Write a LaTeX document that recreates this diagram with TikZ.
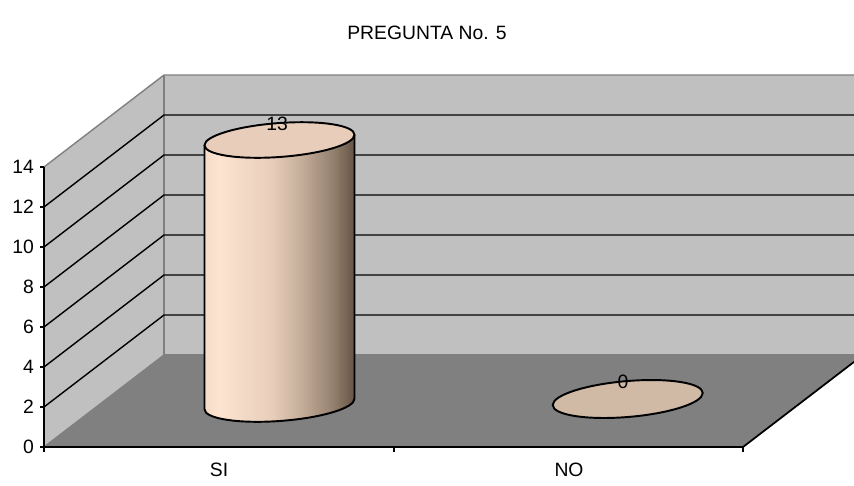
\documentclass[tikz,border=0pt]{standalone}
\usepackage{fontspec}
\setmainfont{Liberation Sans}
\usepackage{tikz}
\definecolor{wallgray}{RGB}{192,192,192}
\definecolor{floorgray}{RGB}{128,128,128}
\definecolor{cylA}{RGB}{245,220,200}
\definecolor{cylB}{RGB}{252,228,208}
\definecolor{cylC}{RGB}{232,206,186}
\definecolor{cylD}{RGB}{195,172,152}
\definecolor{cylE}{RGB}{150,130,112}
\definecolor{cylF}{RGB}{100,84,70}
\definecolor{cyltop}{RGB}{232,206,186}
\definecolor{disk}{RGB}{208,186,166}
\pgfdeclarehorizontalshading{cylshade}{100bp}{color(0bp)=(cylA); color(25bp)=(cylA); color(30bp)=(cylB); color(47.5bp)=(cylC); color(57.5bp)=(cylD); color(67.5bp)=(cylE); color(75bp)=(cylF); color(100bp)=(cylF)}

\begin{document}
\begin{tikzpicture}[x=0.02cm,y=0.02cm,font=\fontsize{11}{13}\selectfont,
		grid/.style={line width=0.8pt},
		edge/.style={draw=floorgray,line width=0.8pt},
		axis/.style={line width=1pt},
		lbl/.style={inner sep=1pt}]
		\useasboundingbox(0,0)rectangle(854,485);
		% walls and floor
		\fill[wallgray](164,130)rectangle(854,410);
		\fill[floorgray](44,38)--(743,38)--(854,123.1)--(854,130)--(164,130)--cycle;
		\fill[wallgray](44,38)--(164,130)--(164,410)--(44,318)--cycle;
		\draw[edge](44,318)--(164,410)--(854,410);
		\draw[edge](854,130)--(164,130)--(164,410);
		\draw[edge](44,38)--(164,130);
		% grid
		\draw[grid](44,78)--(164,170)--(854,170);
		\draw[grid](44,118)--(164,210)--(854,210);
		\draw[grid](44,158)--(164,250)--(854,250);
		\draw[grid](44,198)--(164,290)--(854,290);
		\draw[grid](44,238)--(164,330)--(854,330);
		\draw[grid](44,278)--(164,370)--(854,370);
		% axes
		\draw[axis](44,318)--(44,38)--(743,38)--(854,123.1);
		\draw[axis](40,38)--(44,38);
		\draw[axis](40,78)--(44,78);
		\draw[axis](40,118)--(44,118);
		\draw[axis](40,158)--(44,158);
		\draw[axis](40,198)--(44,198);
		\draw[axis](40,238)--(44,238);
		\draw[axis](40,278)--(44,278);
		\draw[axis](40,318)--(44,318);
		\draw[axis](44,38)--(44,33);
		\draw[axis](394,38)--(394,33);
		\draw[axis](743,38)--(743,33);
		\node[lbl,anchor=east](t0)at(36,38){0};
		\node[lbl,anchor=east](t2)at(36,78){2};
		\node[lbl,anchor=east](t4)at(36,118){4};
		\node[lbl,anchor=east](t6)at(36,158){6};
		\node[lbl,anchor=east](t8)at(36,198){8};
		\node[lbl,anchor=east](t10)at(36,238){10};
		\node[lbl,anchor=east](t12)at(36,278){12};
		\node[lbl,anchor=east](t14)at(36,318){14};
		\node[lbl](si)at(219,15){SI};
		\node[lbl](no)at(569,15){NO};
		\node[lbl](title)at(427,452){PREGUNTA No. 5};
		% SI cylinder
		\begin{scope}[shift={(279.5,81)},cm={1,0.07,0,1,(0,0)}]
			\shade[shading=cylshade](-75,0)arc[start angle=180,end angle=360,x radius=75,y radius=17]--(75,264)--(-75,264)--cycle;
			\draw[line width=1.1pt](-75,264)--(-75,0)arc[start angle=180,end angle=360,x radius=75,y radius=17]--(75,264);
			\draw[line width=1.1pt,fill=cyltop](0,264)ellipse[x radius=75,y radius=17];
		\end{scope}
		% NO disk
		\begin{scope}[shift={(627.7,86)},cm={1,0.08,0,1,(0,0)}]
			\draw[line width=1.1pt,fill=disk](0,0)ellipse[x radius=75,y radius=18];
		\end{scope}
		\node[lbl](v13)at(277,361){13};
		\node[lbl](v0)at(623,103){0};
	\end{tikzpicture}
\end{document}
